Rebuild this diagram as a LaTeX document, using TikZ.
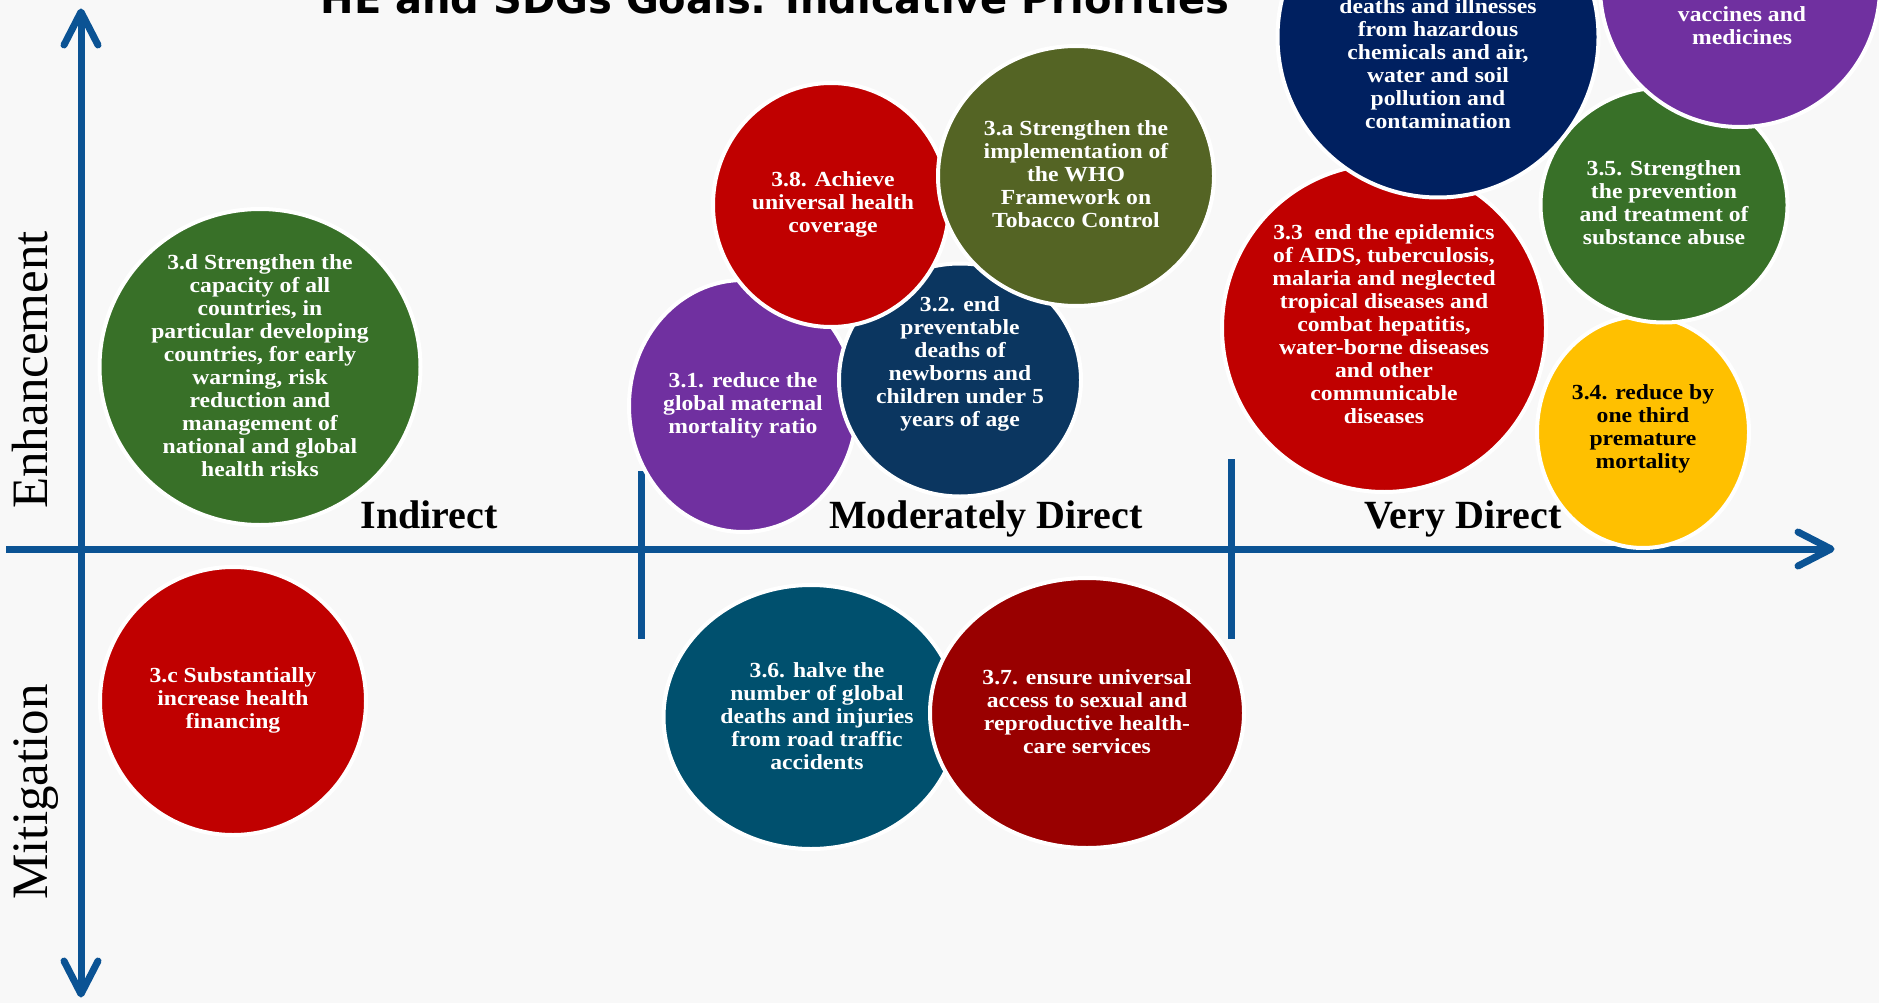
\documentclass[tikz,border=0pt]{standalone}
\usepackage{fontspec}
\setmainfont{Liberation Serif}
\newfontfamily\cfont[FakeStretch=1.1]{Liberation Serif}
\newfontfamily\tfont{DejaVu Sans}
\usetikzlibrary{shapes.geometric}
\definecolor{axisblue}{RGB}{11,83,148}
\definecolor{cgreen}{RGB}{56,112,40}
\definecolor{cred}{RGB}{192,0,0}
\definecolor{colive}{RGB}{84,100,36}
\definecolor{cpurple}{RGB}{112,48,160}
\definecolor{cnavy}{RGB}{11,54,96}
\definecolor{cdeep}{RGB}{0,32,96}
\definecolor{cyellow}{RGB}{255,192,0}
\definecolor{cteal}{RGB}{0,80,110}
\definecolor{cdarkred}{RGB}{153,0,0}
\definecolor{bgcol}{RGB}{248,248,248}
\begin{document}
\begin{tikzpicture}[x=1pt,y=-1pt,
  blob/.style={ellipse, draw=white, line width=4pt, inner sep=0pt, outer sep=0pt},
  btxt/.style={align=center, text=white, inner sep=0pt,
    font=\cfont\bfseries\fontsize{21.5}{23}\selectfont},
  axisln/.style={draw=axisblue, line width=7pt},
  tipline/.style={draw=axisblue, line width=7pt, line cap=round, line join=round},
  catlabel/.style={font=\bfseries\fontsize{40}{40}\selectfont, anchor=base, inner sep=0pt},
  sidelabel/.style={font=\fontsize{51}{51}\selectfont, rotate=90, anchor=base, inner sep=0pt}]
\useasboundingbox (0,0) rectangle (1879,1003);
\clip (0,0) rectangle (1879,1003);
\fill[bgcol] (0,0) rectangle (1879,1003);

% title (cut off at top)
\node[anchor=base, inner sep=0pt, font=\tfont\bfseries\fontsize{40}{40}\selectfont] (title) at (775,14)
  {HE and SDGs Goals: Indicative Priorities};

% axes
\coordinate (htail) at (6,549);
\coordinate (htip) at (1831,549);
\coordinate (vtop) at (81,12);
\coordinate (vbot) at (81,994);
\coordinate (d1t) at (641,471);
\coordinate (d1b) at (641,639);
\coordinate (d2t) at (1231,459);
\coordinate (d2b) at (1231,639);
\draw[axisln] (htail) -- (htip);
\draw[axisln] (vtop) -- (vbot);
\draw[tipline] ([shift={(-33,-17)}]htip) -- (htip) -- ([shift={(-33,17)}]htip);
\draw[tipline] ([shift={(-17,33)}]vtop) -- (vtop) -- ([shift={(17,33)}]vtop);
\draw[tipline] ([shift={(-17,-33)}]vbot) -- (vbot) -- ([shift={(17,-33)}]vbot);
\draw[axisln] (d1t) -- (d1b);
\draw[axisln] (d2t) -- (d2b);

% circles
\node[blob, fill=cgreen, minimum width=321pt, minimum height=316pt] (c3d) at (260,367) {};
\node[blob, fill=cred, minimum width=266pt, minimum height=268pt] (c3c) at (233,701) {};
\node[blob, fill=cpurple, minimum width=228pt, minimum height=252pt] (c31) at (743,406) {};
\node[blob, fill=cnavy, minimum width=242pt, minimum height=233pt] (c32) at (960,380) {};
\node[blob, fill=cred, minimum width=236pt, minimum height=244pt] (c38) at (831,205) {};
\node[blob, fill=colive, minimum width=276pt, minimum height=260pt] (c3a) at (1076,176) {};
\node[blob, fill=cred, minimum width=324pt, minimum height=328pt] (c33) at (1384,328) {};
\node[blob, fill=cyellow, minimum width=212pt, minimum height=232pt] (c34) at (1643,432) {};
\node[blob, fill=cgreen, minimum width=247pt, minimum height=235pt] (c35) at (1664,205) {};
\node[blob, fill=cpurple, minimum width=280pt, minimum height=280pt] (c3b) at (1740,-13) {};
\node[blob, fill=cdeep, minimum width=321pt, minimum height=321pt] (c39) at (1438,37) {};
\node[blob, fill=cteal, minimum width=295pt, minimum height=264pt] (c36) at (811,717) {};
\node[blob, fill=cdarkred, minimum width=314pt, minimum height=270pt] (c37) at (1087,713) {};

% circle texts
\node[btxt] (t3d) at (260,366) {3.d Strengthen the\\capacity of all\\countries, in\\particular developing\\countries, for early\\warning, risk\\reduction and\\management of\\national and global\\health risks};
\node[btxt] (t3c) at (233,700) {3.c Substantially\\increase health\\financing};
\node[btxt] (t31) at (743,405) {3.1. reduce the\\global maternal\\mortality ratio};
\node[btxt] (t32) at (960,364) {3.2. end\\preventable\\deaths of\\newborns and\\children under 5\\years of age};
\node[btxt] (t38) at (833,204) {3.8. Achieve\\universal health\\coverage};
\node[btxt] (t3a) at (1076,174) {3.a Strengthen the\\implementation of\\the WHO\\Framework on\\Tobacco Control};
\node[btxt] (t33) at (1384,324) {3.3\ \ end the epidemics\\of AIDS, tuberculosis,\\malaria and neglected\\tropical diseases and\\combat hepatitis,\\water-borne diseases\\and other\\communicable\\diseases};
\node[btxt, text=black] (t34) at (1643,429) {3.4. reduce by\\one third\\premature\\mortality};
\node[btxt] (t35) at (1664,203) {3.5. Strengthen\\the prevention\\and treatment of\\substance abuse};
\node[btxt] (t3b) at (1742,26) {vaccines and\\medicines};
\node[btxt] (t39) at (1438,64) {deaths and illnesses\\from hazardous\\chemicals and air,\\water and soil\\pollution and\\contamination};
\node[btxt] (t36) at (817,716) {3.6. halve the\\number of global\\deaths and injuries\\from road traffic\\accidents};
\node[btxt] (t37) at (1087,712) {3.7. ensure universal\\access to sexual and\\reproductive health-\\care services};

% category labels
\node[catlabel] (lind) at (429,528) {Indirect};
\node[catlabel] (lmod) at (986,528) {Moderately Direct};
\node[catlabel] (lvery) at (1463,528) {Very Direct};

% side labels
\node[sidelabel] (lenh) at (47,370) {Enhancement};
\node[sidelabel] (lmit) at (47,792) {Mitigation};
\end{tikzpicture}
\end{document}
